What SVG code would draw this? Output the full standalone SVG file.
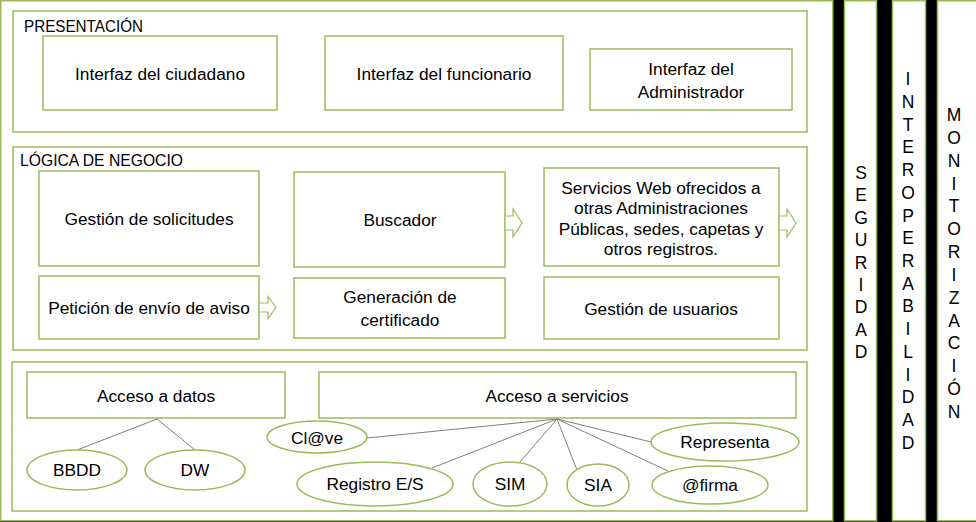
<svg xmlns="http://www.w3.org/2000/svg" width="976" height="522" viewBox="0 0 976 522">
<style>
.box{fill:#fff;stroke:#9bbb59;stroke-width:1.5}
.t{font-family:"Liberation Sans",Arial,sans-serif;font-size:17.3px;fill:#000;text-anchor:middle}
.h{font-family:"Liberation Sans",Arial,sans-serif;font-size:16px;fill:#000}
.v{font-family:"Liberation Sans",Arial,sans-serif;font-size:17.5px;fill:#000;text-anchor:middle}
.ln{stroke:#7f7f7f;stroke-width:1;fill:none}
.arr{fill:#fff;stroke:#9bbb59;stroke-width:1.2}
</style>
<rect x="0" y="0" width="976" height="522" fill="#000"/>
<g id="main"><rect class="box" x="0.75" y="0.75" width="832" height="520"/></g>

<g id="presentacion">
<rect class="box" x="13" y="11" width="794" height="121"/>
<text class="h" x="24" y="32" textLength="119" lengthAdjust="spacingAndGlyphs">PRESENTACIÓN</text>
</g>
<g id="interfaz-ciudadano"><rect class="box" x="43" y="36" width="234" height="74"/><text class="t" x="160" y="80">Interfaz del ciudadano</text></g>
<g id="interfaz-funcionario"><rect class="box" x="325" y="36" width="238" height="74"/><text class="t" x="444" y="80">Interfaz del funcionario</text></g>
<g id="interfaz-administrador"><rect class="box" x="590" y="49" width="202" height="61"/><text class="t" x="691" y="75">Interfaz del</text><text class="t" x="691" y="98">Administrador</text></g>

<g id="logica">
<rect class="box" x="13" y="147" width="794" height="203"/>
<text class="h" x="20" y="166" textLength="163" lengthAdjust="spacingAndGlyphs">LÓGICA DE NEGOCIO</text>
</g>
<g id="gestion-solicitudes"><rect class="box" x="39" y="171" width="220" height="95"/><text class="t" x="149" y="225">Gestión de solicitudes</text></g>
<g id="buscador"><rect class="box" x="294" y="172" width="211" height="95"/><text class="t" x="400" y="226">Buscador</text></g>
<g id="servicios-web"><rect class="box" x="544" y="168" width="235" height="98"/>
<text class="t" x="661" y="194">Servicios Web ofrecidos a</text>
<text class="t" x="661" y="214">otras Administraciones</text>
<text class="t" x="661" y="235">Públicas, sedes, capetas y</text>
<text class="t" x="661" y="255">otros registros.</text></g>
<g id="peticion"><rect class="box" x="39" y="276" width="220" height="63"/><text class="t" x="149" y="314">Petición de envío de aviso</text></g>
<g id="generacion"><rect class="box" x="294" y="278" width="211" height="60"/><text class="t" x="400" y="303">Generación de</text><text class="t" x="400" y="326">certificado</text></g>
<g id="gestion-usuarios"><rect class="box" x="544" y="277" width="235" height="62"/><text class="t" x="661" y="315">Gestión de usuarios</text></g>

<g id="acceso">
<rect class="box" x="12" y="362" width="795" height="149"/>
</g>
<g id="acceso-datos"><rect class="box" x="27" y="372" width="258" height="46"/><text class="t" x="156" y="402">Acceso a datos</text></g>
<g id="acceso-servicios"><rect class="box" x="319" y="372" width="477" height="46"/><text class="t" x="557" y="402">Acceso a servicios</text></g>

<g id="connectors">
<path class="arr" d="M259,303 H268 V296.5 L276,307.5 L268,318.5 V312 H259 Z"/>
<path class="arr" d="M505,216 H513 V209 L522,223 L513,237 V230 H505 Z"/>
<path class="arr" d="M779,216 H787 V209 L796,223 L787,237 V230 H779 Z"/>
<line class="ln" x1="157" y1="419" x2="77" y2="450"/>
<line class="ln" x1="157" y1="419" x2="195" y2="450"/>
<line class="ln" x1="557" y1="419" x2="367" y2="438"/>
<line class="ln" x1="557" y1="419" x2="432" y2="468"/>
<line class="ln" x1="557" y1="419" x2="520" y2="462"/>
<line class="ln" x1="557" y1="419" x2="577" y2="470"/>
<line class="ln" x1="557" y1="419" x2="668" y2="471"/>
<line class="ln" x1="557" y1="419" x2="651" y2="442"/>
</g>

<g id="bbdd"><ellipse class="box" cx="77" cy="470" rx="50" ry="20"/><text class="t" x="77" y="476">BBDD</text></g>
<g id="dw"><ellipse class="box" cx="195" cy="470" rx="50" ry="20"/><text class="t" x="195" y="476">DW</text></g>
<g id="clave"><ellipse class="box" cx="317" cy="437" rx="50" ry="16"/><text class="t" x="317" y="444">Cl@ve</text></g>
<g id="registro"><ellipse class="box" cx="375" cy="484" rx="78" ry="22"/><text class="t" x="375" y="490">Registro E/S</text></g>
<g id="sim"><ellipse class="box" cx="510" cy="484" rx="37" ry="22"/><text class="t" x="510" y="490">SIM</text></g>
<g id="sia"><ellipse class="box" cx="598" cy="485" rx="31" ry="21"/><text class="t" x="598" y="491">SIA</text></g>
<g id="firma"><ellipse class="box" cx="710" cy="485" rx="58" ry="19"/><text class="t" x="710" y="491">@firma</text></g>
<g id="representa"><ellipse class="box" cx="725" cy="442" rx="74" ry="19"/><text class="t" x="725" y="448">Representa</text></g>

<g id="seguridad"><rect class="box" x="844.5" y="0.75" width="32" height="520"/>
<text class="v" x="861" y="179">S</text><text class="v" x="861" y="201">E</text><text class="v" x="861" y="224">G</text><text class="v" x="861" y="246">U</text><text class="v" x="861" y="269">R</text><text class="v" x="861" y="291">I</text><text class="v" x="861" y="313">D</text><text class="v" x="861" y="336">A</text><text class="v" x="861" y="358">D</text>
</g>
<g id="interoperabilidad"><rect class="box" x="892.5" y="0.75" width="33" height="520"/>
<text class="v" x="908" y="85">I</text><text class="v" x="908" y="108">N</text><text class="v" x="908" y="131">T</text><text class="v" x="908" y="153">E</text><text class="v" x="908" y="176">R</text><text class="v" x="908" y="199">O</text><text class="v" x="908" y="222">P</text><text class="v" x="908" y="244">E</text><text class="v" x="908" y="267">R</text><text class="v" x="908" y="290">A</text><text class="v" x="908" y="312">B</text><text class="v" x="908" y="335">I</text><text class="v" x="908" y="358">L</text><text class="v" x="908" y="381">I</text><text class="v" x="908" y="403">D</text><text class="v" x="908" y="426">A</text><text class="v" x="908" y="449">D</text>
</g>
<g id="monitorizacion"><rect class="box" x="937.5" y="0.75" width="40" height="520"/>
<text class="v" x="954" y="121">M</text><text class="v" x="954" y="144">O</text><text class="v" x="954" y="167">N</text><text class="v" x="954" y="190">I</text><text class="v" x="954" y="212">T</text><text class="v" x="954" y="235">O</text><text class="v" x="954" y="258">R</text><text class="v" x="954" y="281">I</text><text class="v" x="954" y="304">Z</text><text class="v" x="954" y="327">A</text><text class="v" x="954" y="349">C</text><text class="v" x="954" y="372">I</text><text class="v" x="954" y="395">Ó</text><text class="v" x="954" y="418">N</text>
</g>
</svg>
